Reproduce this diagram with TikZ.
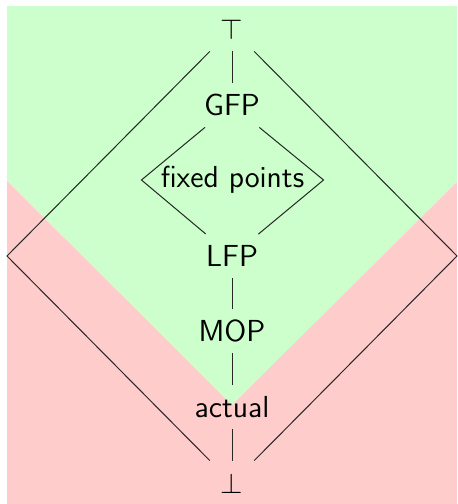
\documentclass[tikz,border=0pt]{standalone}
\begin{document}
\begin{tikzpicture}[x=0.5pt,y=-0.5pt,
  lat/.style={inner sep=0pt, minimum height=22pt, minimum width=22pt,
    font=\fontsize{15.2}{18}\selectfont\sffamily},
  edge/.style={line width=0.5pt, draw=black!85}]
\useasboundingbox (0,0) rectangle (458,504);
% backgrounds
\fill[green!20] (7,6) -- (457,6) -- (457,182) -- (232,405) -- (7,181) -- cycle;
\fill[red!20] (7,181) -- (232,405) -- (457,182) -- (457,504) -- (7,504) -- cycle;
% nodes
\node[lat] (top) at (232,29) {$\top$};
\node[lat] (gfp) at (232,105) {GFP};
\node[lat, inner xsep=9.5pt] (fp) at (232.5,180) {fixed points};
\node[lat] (lfp) at (232,256) {LFP};
\node[lat] (mop) at (232,331) {MOP};
\node[lat] (act) at (232,407) {actual};
\node[lat] (bot) at (232,483) {$\bot$};
\coordinate (L) at (7,256);
\coordinate (R) at (457,256);
% edges
\draw[edge] (top) -- (gfp);
\draw[edge] (gfp) -- (fp.west) -- (lfp);
\draw[edge] (gfp) -- (fp.east) -- (lfp);
\draw[edge] (lfp) -- (mop);
\draw[edge] (mop) -- (act);
\draw[edge] (act) -- (bot);
\draw[edge] (top) -- (L) -- (bot);
\draw[edge] (top) -- (R) -- (bot);
\end{tikzpicture}
\end{document}
